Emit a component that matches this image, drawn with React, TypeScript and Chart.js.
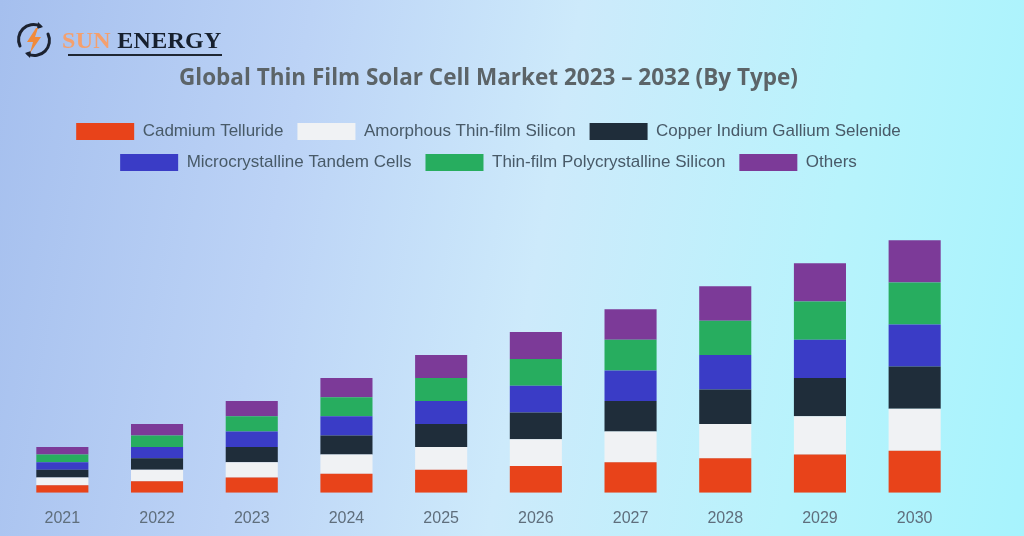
import React, { useEffect, useRef } from "react";
import { Chart, registerables } from "chart.js";

Chart.register(...registerables);

const years = ["2021", "2022", "2023", "2024", "2025", "2026", "2027", "2028", "2029", "2030"];
const cadmiumTelluride = [2, 3, 4, 5, 6, 7, 8, 9, 10, 11];
const amorphousSilicon = [2, 3, 4, 5, 6, 7, 8, 9, 10, 11];
const copperIndium = [2, 3, 4, 5, 6, 7, 8, 9, 10, 11];
const microcrystalline = [2, 3, 4, 5, 6, 7, 8, 9, 10, 11];
const polycrystalline = [2, 3, 4, 5, 6, 7, 8, 9, 10, 11];
const others = [2, 3, 4, 5, 6, 7, 8, 9, 10, 11];

const seriesNames = [
  "Cadmium Telluride",
  "Amorphous Thin-film Silicon",
  "Copper Indium Gallium Selenide",
  "Microcrystalline Tandem Cells",
  "Thin-film Polycrystalline Silicon",
  "Others",
];
const seriesColors = ["#e8431a", "#f0f2f4", "#1f2d3a", "#3a3cc6", "#27ad5f", "#7c3a98"];
const seriesValues = [cadmiumTelluride, amorphousSilicon, copperIndium, microcrystalline, polycrystalline, others];

function Logo() {
  return (
    <div style={{ position: "absolute", left: 14, top: 20, width: 220, height: 42 }}>
      <svg width="40" height="40" viewBox="0 0 40 40" style={{ position: "absolute", left: 0, top: 0 }}>
        <path d="M 6 26 A 15 15 0 0 1 26 6" fill="none" stroke="#1c2230" strokeWidth="3" strokeLinecap="round" />
        <path d="M 24 2 L 29 7 L 23 9 Z" fill="#1c2230" />
        <path d="M 34 14 A 15 15 0 0 1 14 34" fill="none" stroke="#1c2230" strokeWidth="3" strokeLinecap="round" />
        <path d="M 16 38 L 11 33 L 17 31 Z" fill="#1c2230" />
        <path d="M 22 8 L 13 22 L 19 22 L 16 33 L 27 17 L 21 17 L 24 8 Z" fill="#f08a3a" />
      </svg>
      <div
        style={{
          position: "absolute",
          left: 48,
          top: 7,
          fontFamily: "'Liberation Serif', 'DejaVu Serif', serif",
          fontWeight: 700,
          fontSize: 24,
          lineHeight: "26px",
          whiteSpace: "nowrap",
          letterSpacing: 0.3,
        }}
      >
        <span style={{ color: "#f4a06e" }}>SUN</span>
        <span style={{ color: "#17202e" }}> ENERGY</span>
      </div>
      <div style={{ position: "absolute", left: 54, top: 34, width: 154, height: 2, background: "#1f2733" }} />
    </div>
  );
}

export default function App() {
  const canvasRef = useRef<HTMLCanvasElement | null>(null);

  useEffect(() => {
    if (!canvasRef.current) return;
    const chart = new Chart(canvasRef.current, {
      type: "bar",
      data: {
        labels: years,
        datasets: seriesNames.map((name, i) => ({
          label: name,
          data: seriesValues[i],
          backgroundColor: seriesColors[i],
          borderWidth: 0,
          barPercentage: 0.55,
          categoryPercentage: 1,
        })),
      },
      options: {
        animation: false,
        responsive: false,
        maintainAspectRatio: false,
        layout: { padding: { top: 60, left: 15, right: 15, bottom: 10 } },
        plugins: {
          title: {
            display: true,
            text: "Global Thin Film Solar Cell Market 2023 – 2032 (By Type)",
            color: "#5c6468",
            font: { family: "'Open Sans', sans-serif", size: 22.5, weight: "bold" },
            padding: { top: 5, bottom: 17 },
          },
          legend: {
            display: true,
            position: "top",
            labels: {
              boxWidth: 58,
              boxHeight: 17,
              padding: 14,
              color: "#485a68",
              font: { family: "'Liberation Sans', Arial, sans-serif", size: 17 },
            },
          },
          tooltip: { enabled: false },
        },
        scales: {
          x: {
            stacked: true,
            grid: { display: false },
            border: { display: false },
            ticks: {
              color: "#5f6e7c",
              padding: 8,
              font: { family: "'Liberation Sans', Arial, sans-serif", size: 16 },
            },
          },
          y: {
            stacked: true,
            display: false,
            min: 0,
            max: 81.5,
          },
        },
      },
    });
    return () => chart.destroy();
  }, []);

  return (
    <div
      style={{
        position: "fixed",
        left: 0,
        top: 0,
        width: 1024,
        height: 536,
        overflow: "hidden",
        background:
          "linear-gradient(100deg, #a5bfee 0%, #bcd3f6 28%, #cdeafb 52%, #b8f3fc 78%, #a7f3fd 100%)",
      }}
    >
      <canvas ref={canvasRef} width={977} height={546} style={{ position: "absolute", left: 0, top: 0, width: 977, height: 546 }} />
      <Logo />
    </div>
  );
}
